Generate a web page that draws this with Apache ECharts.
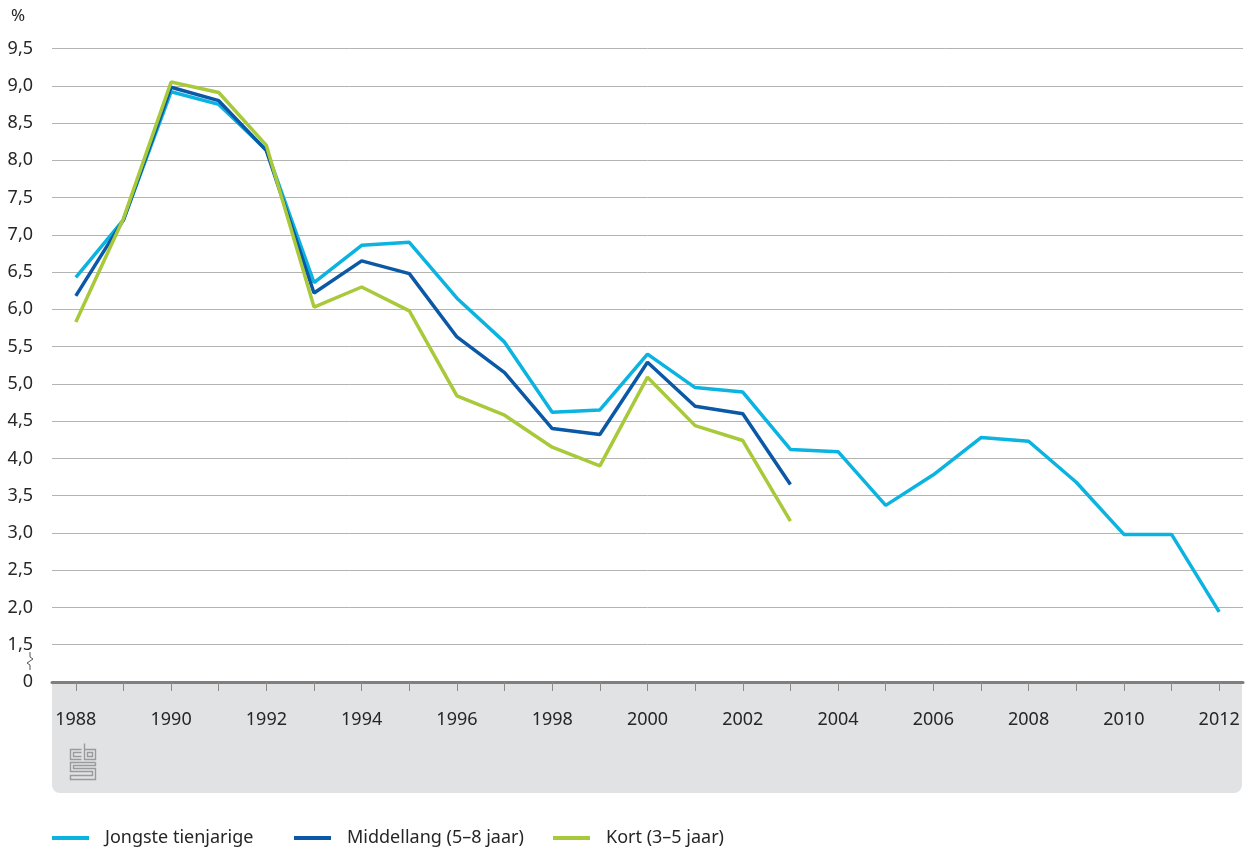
<!DOCTYPE html>
<html>
<head>
<meta charset="utf-8">
<script src="https://cdn.jsdelivr.net/npm/echarts@6/dist/echarts.min.js"></script>
<style>
  html, body { margin: 0; padding: 0; background: #fff; }
  #wrap { position: relative; width: 1246px; height: 850px; }
  #band { position: absolute; left: 52px; top: 682px; width: 1190px; height: 111px;
          background: #e1e2e4; border-radius: 0 0 8px 8px; }
  #chart { position: absolute; left: 0; top: 0; width: 1246px; height: 850px; }
</style>
</head>
<body>
<div id="wrap">
  <div id="band"></div>
  <div id="chart"></div>
</div>
<script>
// jaren
var years = ['1988', '1989', '1990', '1991', '1992', '1993', '1994', '1995', '1996', '1997',
             '1998', '1999', '2000', '2001', '2002', '2003', '2004', '2005', '2006', '2007',
             '2008', '2009', '2010', '2011', '2012'];
// Jongste tienjarige
var jongste = [6.43, 7.2, 8.92, 8.75, 8.14, 6.36, 6.86, 6.9, 6.15, 5.56,
               4.62, 4.65, 5.40, 4.95, 4.89, 4.12, 4.09, 3.37, 3.78, 4.28,
               4.23, 3.68, 2.98, 2.98, 1.94];
// Middellang (5-8 jaar)
var middellang = [6.18, 7.2, 8.98, 8.80, 8.13, 6.22, 6.65, 6.48, 5.63, 5.15,
                  4.40, 4.32, 5.29, 4.70, 4.60, 3.65];
// Kort (3-5 jaar)
var kort = [5.83, 7.22, 9.05, 8.91, 8.20, 6.03, 6.30, 5.98, 4.84, 4.58,
            4.15, 3.90, 5.09, 4.44, 4.24, 3.16];

var seriesNames = ['Jongste tienjarige', 'Middellang (5\u20138 jaar)', 'Kort (3\u20135 jaar)'];
var seriesColors = ['#0ab3e0', '#0a58a6', '#a8c93a'];

var FONT = '"Noto Sans", sans-serif';
var TXT = '#262626';

function LoadChart() {
    var myChart = echarts.init(document.getElementById('chart'));

    function legendItem(i, left) {
        return {
            left: left,
            top: 829,
            padding: 0,
            icon: 'rect',
            itemWidth: 37,
            itemHeight: 4,
            data: [seriesNames[i]],
            textStyle: {
                color: TXT,
                fontSize: 18,
                fontFamily: FONT,
                padding: [0, 0, 0, 11]
            }
        };
    }

    function makeLine(i, data) {
        return {
            name: seriesNames[i],
            type: 'line',
            data: data,
            symbol: 'none',
            lineStyle: { width: 3.5, color: seriesColors[i] },
            itemStyle: { color: seriesColors[i] },
            animation: false
        };
    }

    var option = {
        backgroundColor: 'transparent',
        grid: {
            left: 52,
            right: 3,
            top: 48.5,
            bottom: 168
        },
        legend: [legendItem(0, 52), legendItem(1, 294), legendItem(2, 553)],
        graphic: [
            {
                type: 'text',
                left: 11,
                top: 8,
                style: { text: '%', fill: TXT, font: '17px ' + FONT }
            },
            //asbreuk
            {
                type: 'polyline',
                shape: { points: [[30, 652], [30, 657], [33, 659], [27, 663], [30, 665], [30, 670]] },
                style: { stroke: '#555', lineWidth: 1, fill: null }
            },
            //cbs logo
            {
                type: 'group',
                left: 68,
                top: 741,
                children: [
                    { type: 'polyline', shape: { points: [[12, 6], [1, 6], [1, 16], [12, 16]] }, style: { stroke: '#9a9a9a', lineWidth: 1.4, fill: null } },
                    { type: 'polyline', shape: { points: [[12, 9], [4, 9], [4, 13], [12, 13]] }, style: { stroke: '#9a9a9a', lineWidth: 1.4, fill: null } },
                    { type: 'polyline', shape: { points: [[15, 0], [15, 16], [26, 16], [26, 6], [15, 6]] }, style: { stroke: '#9a9a9a', lineWidth: 1.4, fill: null } },
                    { type: 'rect', shape: { x: 18, y: 9, width: 5, height: 4 }, style: { stroke: '#9a9a9a', lineWidth: 1.4, fill: null } },
                    { type: 'polyline', shape: { points: [[26, 19], [1, 19], [1, 28], [23, 28], [23, 32], [1, 32], [1, 36], [26, 36], [26, 25], [4, 25], [4, 22], [26, 22], [26, 19]] }, style: { stroke: '#9a9a9a', lineWidth: 1.4, fill: null } }
                ]
            }
        ],
        xAxis: {
            type: 'category',
            data: years,
            boundaryGap: true,
            axisLine: {
                show: true,
                lineStyle: { color: '#7f7f7f', width: 3 }
            },
            axisTick: {
                show: true,
                alignWithLabel: true,
                interval: 0,
                inside: false,
                length: 9,
                lineStyle: { color: '#8a8a8a', width: 1 }
            },
            axisLabel: {
                interval: 1,
                margin: 29,
                color: TXT,
                fontSize: 18,
                fontFamily: FONT
            },
            splitLine: { show: false }
        },
        yAxis: {
            type: 'value',
            min: 1,
            max: 9.5,
            interval: 0.5,
            axisLine: { show: false },
            axisTick: { show: false },
            axisLabel: {
                margin: 19,
                color: TXT,
                fontSize: 18,
                fontFamily: FONT,
                formatter: function (v) {
                    if (v === 1) return '0';
                    return v.toFixed(1).replace('.', ',');
                }
            },
            splitLine: {
                lineStyle: { color: '#b3b3b3', width: 1 }
            }
        },
        series: [
            makeLine(0, jongste),
            makeLine(1, middellang),
            makeLine(2, kort)
        ]
    };
    myChart.setOption(option);
}

LoadChart();
</script>
</body>
</html>
